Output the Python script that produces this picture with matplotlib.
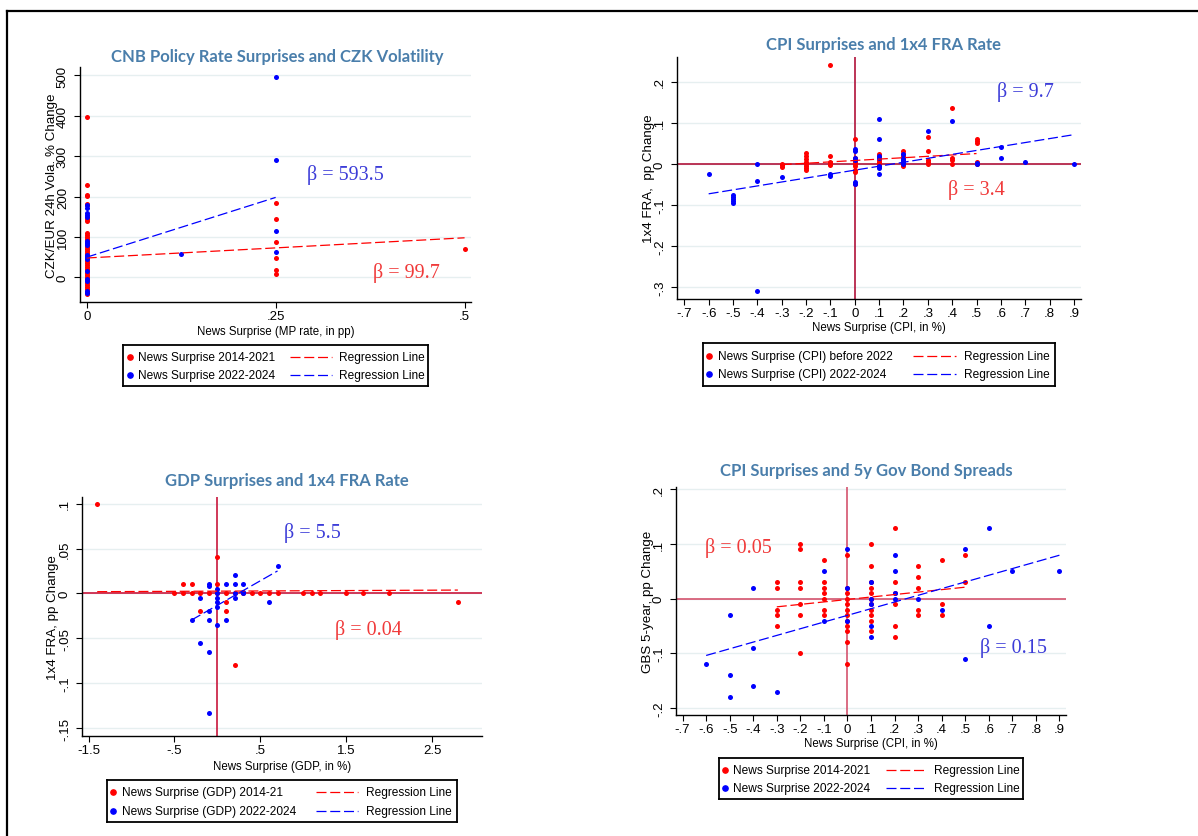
import matplotlib
matplotlib.use("Agg")
import matplotlib.pyplot as plt
from matplotlib.lines import Line2D
import numpy as np

W, H = 1198, 837
SANS = ['Liberation Sans', 'DejaVu Sans']
SERIF = ['Liberation Serif', 'DejaVu Serif']
plt.rcParams['font.family'] = SANS

TITLE_C = '#4a7eab'
GRID_C = '#e6eff0'
RED = '#ff0000'
BLUE = '#0000ff'
BETA_RED = '#f03a3a'
BETA_BLUE = '#3c3cd8'

# ---- panel 1: CNB policy rate surprises vs CZK volatility
p1_red_x = [0]*40 + [0.25]*6 + [0.5]
p1_red_y = [397, 228, 205, 202, 182, 178, 150, 145, 140, 110, 105, 100, 95, 90, 85, 80,
            75, 70, 65, 60, 55, 50, 45, 40, 35, 30, 25, 20, 15, 10, 5, 0, -5, -10, -15,
            -20, -25, -30, -35, -40,
            185, 145, 87, 47, 18, 8,
            70]
p1_blue_x = [0]*16 + [0.125] + [0.25]*4
p1_blue_y = [178, 172, 160, 155, 150, 90, 85, 80, 55, 50, 45, 15, -5, -10, -33, -39,
             58,
             495, 290, 115, 62]
p1_red_fit = ([0, 0.5], [48, 98])
p1_blue_fit = ([0, 0.25], [50, 198])

# ---- panel 2: CPI surprises vs 1x4 FRA
p2_red_x = ([-0.3]*3 + [-0.2]*8 + [-0.1]*5 + [0]*9 + [0.1]*6 + [0.2]*6 + [0.3]*5
            + [0.4]*4 + [0.5]*5)
p2_red_y = [0, -0.004, -0.008,
            0.026, 0.02, 0.012, 0.005, 0, -0.005, -0.01, -0.015,
            0.24, 0.02, 0.005, 0, -0.003,
            0.06, 0.015, 0.01, 0.005, 0, -0.005, -0.015, -0.02, -0.048,
            0.025, 0.02, 0.01, 0.005, 0, -0.005,
            0.03, 0.025, 0.02, 0.01, 0, -0.005,
            0.065, 0.03, 0.01, 0.005, 0,
            0.136, 0.015, 0.01, 0,
            0.06, 0.055, 0.05, 0.005, 0]
p2_blue_x = ([-0.6] + [-0.5]*5 + [-0.4]*3 + [-0.3] + [-0.1]*2 + [0]*6 + [0.1]*7
             + [0.2]*5 + [0.3] + [0.4] + [0.5]*2 + [0.6]*2 + [0.7] + [0.9])
p2_blue_y = [-0.025,
             -0.075, -0.08, -0.085, -0.09, -0.095,
             0, -0.041, -0.31,
             -0.031,
             -0.025, -0.03,
             0.035, 0.03, 0.015, 0.01, -0.045, -0.05,
             0.11, 0.06, 0.02, 0.015, -0.005, -0.01, -0.025,
             0.025, 0.015, 0.01, 0.005, 0,
             0.08,
             0.105,
             0, 0.002,
             0.04, 0.015,
             0.005,
             0]
p2_red_fit = ([-0.3, 0.5], [-0.002, 0.025])
p2_blue_fit = ([-0.6, 0.9], [-0.073, 0.071])

# ---- panel 3: GDP surprises vs 1x4 FRA
p3_red_x = [-1.4, -0.5, -0.4, -0.4, -0.3, -0.3, -0.2, -0.2, -0.1, 0, 0, 0, 0.1, 0.1, 0.1,
            0.2, 0.2, 0.3, 0.4, 0.5, 0.6, 0.7, 1.0, 1.1, 1.2, 1.5, 1.7, 2.0, 2.8]
p3_red_y = [0.1, 0, 0, 0.01, 0, 0.01, 0, -0.02, 0, 0.04, 0.01, 0, 0, -0.01, -0.02,
            0, -0.08, 0, 0, 0, 0, 0, 0, 0, 0, 0, 0, 0, -0.01]
p3_blue_x = ([-0.3] + [-0.2]*2 + [-0.1]*6 + [0]*6 + [0.1]*2 + [0.2]*4 + [0.3]*3
             + [0.6] + [0.7])
p3_blue_y = [-0.03,
             -0.005, -0.055,
             0.01, 0.008, -0.02, -0.03, -0.065, -0.133,
             0.005, 0, -0.005, -0.01, -0.015, -0.035,
             0.01, -0.03,
             0.02, 0.01, 0, -0.005,
             0.01, 0.002, 0,
             -0.01,
             0.03]
p3_red_fit = ([-1.4, 2.8], [0.0019, 0.0037])
p3_blue_fit = ([-0.3, 0.7], [-0.0296, 0.025])

# ---- panel 4: CPI surprises vs 5y government bond spreads
p4_red_x = ([-0.3]*5 + [-0.2]*7 + [-0.1]*7 + [0]*12 + [0.1]*11 + [0.2]*6 + [0.3]*5
            + [0.4]*3 + [0.5]*2)
p4_red_y = [0.03, 0.02, -0.02, -0.03, -0.05,
            0.1, 0.09, 0.03, 0.02, -0.01, -0.03, -0.1,
            0.07, 0.03, 0.02, 0.01, 0, -0.02, -0.03,
            0.08, 0.02, 0.01, 0, -0.01, -0.02, -0.03, -0.04, -0.05, -0.06, -0.08, -0.12,
            0.1, 0.06, 0.03, 0.02, 0.01, 0, -0.01, -0.02, -0.03, -0.04, -0.06,
            0.13, 0.03, 0.01, -0.01, -0.05, -0.07,
            0.06, 0.04, 0.02, -0.02, -0.03,
            0.07, -0.01, -0.03,
            0.08, 0.03]
p4_blue_x = ([-0.6] + [-0.5]*3 + [-0.4]*3 + [-0.3] + [-0.1]*2 + [0]*3 + [0.1]*5
             + [0.2]*4 + [0.3] + [0.4] + [0.5]*2 + [0.6]*2 + [0.7] + [0.9])
p4_blue_y = [-0.12,
             -0.03, -0.14, -0.18,
             0.02, -0.09, -0.16,
             -0.17,
             0.05, -0.04,
             0.09, 0.02, -0.04,
             0.03, 0, -0.01, -0.05, -0.07,
             0.08, 0.05, 0.01, 0,
             0,
             -0.02,
             0.09, -0.11,
             0.13, -0.05,
             0.05,
             0.05]
p4_red_fit = ([-0.3, 0.5], [-0.015, 0.021])
p4_blue_fit = ([-0.6, 0.9], [-0.104, 0.0795])

cpi_ticks = [round(v, 1) + 0.0 for v in np.arange(-0.7, 0.95, 0.1)]

title_cx = {
    'CNB Policy Rate Surprises and CZK Volatility': 277,
    'CPI Surprises and 1x4 FRA Rate': 883,
    'GDP Surprises and 1x4 FRA Rate': 287,
    'CPI Surprises and 5y Gov Bond Spreads': 866,
}


def stata_fmt(v):
    if abs(v) < 1e-9:
        return '0'
    s = f"{v:g}"
    return s.replace("0.", ".")


def px_axes(fig, left, top, right, bottom):
    return fig.add_axes([left / W, 1 - bottom / H, (right - left) / W, (bottom - top) / H])


def fx(x):
    return x / W


def fy(y):
    return 1 - y / H


def panel(fig, box, title, title_y, rx, ry, bx, by, rfit, bfit, xlim, ylim, xticks, yticks,
          xlabel, ylabel, ref_color=None, ylabel_x=None, xlabel_y=None):
    ax = px_axes(fig, *box)
    ax.set_xlim(xlim)
    ax.set_ylim(ylim)
    for s in ['top', 'right']:
        ax.spines[s].set_visible(False)
    for s in ['left', 'bottom']:
        ax.spines[s].set_linewidth(1.0)
    ax.set_yticks(yticks)
    ax.set_yticklabels([stata_fmt(v) for v in yticks], rotation=90, va='center')
    ax.set_xticks(xticks)
    ax.set_xticklabels([stata_fmt(v) for v in xticks])
    ax.tick_params(length=4, width=0.8)
    ax.tick_params(axis='x', labelsize=9.5, pad=2)
    ax.tick_params(axis='y', labelsize=9.5, pad=4)
    ax.grid(axis='y', color=GRID_C, lw=1.0)
    ax.set_axisbelow(True)
    if ref_color:
        ax.axhline(0, color=ref_color, lw=1.2, zorder=1)
        ax.axvline(0, color=ref_color, lw=1.2, zorder=1)
    ax.scatter(rx, ry, s=13, color=RED, lw=0, zorder=3)
    ax.scatter(bx, by, s=13, color=BLUE, lw=0, zorder=3)
    ax.plot(rfit[0], rfit[1], color=RED, lw=0.9, ls=(0, (8, 3)), zorder=4)
    ax.plot(bfit[0], bfit[1], color=BLUE, lw=0.9, ls=(0, (8, 3)), zorder=4)
    ax.set_xlabel(xlabel, fontsize=8.3)
    ax.set_ylabel(ylabel, fontsize=9.6)
    ax.yaxis.set_label_coords((ylabel_x - box[0]) / (box[2] - box[0]), 0.5)
    ax.xaxis.set_label_coords(0.5, (box[3] - xlabel_y) / (box[3] - box[1]))
    ax.xaxis.label.set_va('center')
    ax.yaxis.label.set_va('center')
    fig.text(fx(title_cx[title]), fy(title_y), title, ha='center', va='center',
             fontsize=12, fontweight='bold', color=TITLE_C, family=['Lato', 'DejaVu Sans'])
    return ax


def beta(fig, x, y, txt, color):
    fig.text(fx(x), fy(y), txt, ha='left', va='center', fontsize=14.5, color=color,
             family=SERIF)


def legend(fig, box, rows, dot_x, text_x, line_x0, line_x1, text2_x, labels):
    l, t, r, b = box
    lax = px_axes(fig, l, t, r, b)
    lax.set_xticks([])
    lax.set_yticks([])
    for s in lax.spines.values():
        s.set_linewidth(1.3)
    lax.patch.set_alpha(0)
    for y, lab, c in zip(rows, labels, [RED, BLUE]):
        fig.add_artist(Line2D([fx(dot_x)], [fy(y)], marker='o', ms=3.8, color=c, lw=0))
        fig.text(fx(text_x), fy(y), lab, ha='left', va='center', fontsize=8.6)
        fig.add_artist(Line2D([fx(line_x0), fx(line_x1)], [fy(y), fy(y)], color=c, lw=0.9,
                              ls=(0, (8, 3))))
        fig.text(fx(text2_x), fy(y), 'Regression Line', ha='left', va='center', fontsize=8.6)


fig = plt.figure(figsize=(W / 100, H / 100), dpi=100)

# outer frame (top and left edges)
fig.add_artist(Line2D([fx(7), 1], [fy(12), fy(12)], color='black', lw=1.6))
fig.add_artist(Line2D([fx(7), fx(7)], [fy(12), 0], color='black', lw=1.6))

panel(fig, (80, 68, 471, 303), 'CNB Policy Rate Surprises and CZK Volatility', 57,
      p1_red_x, p1_red_y, p1_blue_x, p1_blue_y, p1_red_fit, p1_blue_fit,
      (-0.0089, 0.5085), (-61, 521), [0, 0.25, 0.5], [0, 100, 200, 300, 400, 500],
      'News Surprise (MP rate, in pp)', 'CZK/EUR 24h Vola. % Change',
      ylabel_x=52, xlabel_y=332)
beta(fig, 307, 175, 'β = 593.5', BETA_BLUE)
beta(fig, 373, 273, 'β = 99.7', BETA_RED)
legend(fig, (123, 346, 428, 387), [358, 376], 130, 138, 290, 332, 339,
       ['News Surprise 2014-2021', 'News Surprise 2022-2024'])

panel(fig, (677, 58, 1081, 300), 'CPI Surprises and 1x4 FRA Rate', 45,
      p2_red_x, p2_red_y, p2_blue_x, p2_blue_y, p2_red_fit, p2_blue_fit,
      (-0.73, 0.929), (-0.329, 0.26), cpi_ticks, [-0.3, -0.2, -0.1, 0, 0.1, 0.2],
      'News Surprise (CPI, in %)', '1x4 FRA,  pp Change', ref_color='#b0123a',
      ylabel_x=649, xlabel_y=328)
beta(fig, 997, 92, 'β = 9.7', BETA_BLUE)
beta(fig, 948, 190, 'β = 3.4', BETA_RED)
legend(fig, (703, 344, 1055, 387), [357, 375], 709, 718, 913, 956, 964,
       ['News Surprise (CPI) before 2022', 'News Surprise (CPI) 2022-2024'])

panel(fig, (82, 498, 482, 737), 'GDP Surprises and 1x4 FRA Rate', 481,
      p3_red_x, p3_red_y, p3_blue_x, p3_blue_y, p3_red_fit, p3_blue_fit,
      (-1.577, 3.081), (-0.1589, 0.1074), [-1.5, -0.5, 0.5, 1.5, 2.5],
      [-0.15, -0.1, -0.05, 0, 0.05, 0.1],
      'News Surprise (GDP, in %)', '1x4 FRA, pp Change', ref_color='#c8173c',
      ylabel_x=53, xlabel_y=767)
beta(fig, 284, 533, 'β = 5.5', BETA_BLUE)
beta(fig, 335, 630, 'β = 0.04', BETA_RED)
legend(fig, (107, 781, 457, 823), [793, 812], 113, 122, 316, 358, 366,
       ['News Surprise (GDP) 2014-21', 'News Surprise (GDP) 2022-2024'])

panel(fig, (676, 488, 1066, 716), 'CPI Surprises and 5y Gov Bond Spreads', 471,
      p4_red_x, p4_red_y, p4_blue_x, p4_blue_y, p4_red_fit, p4_blue_fit,
      (-0.728, 0.928), (-0.213, 0.2044), cpi_ticks, [-0.2, -0.1, 0, 0.1, 0.2],
      'News Surprise (CPI, in %)', 'GBS 5-year, pp Change', ref_color='#d4546e',
      ylabel_x=648, xlabel_y=744)
beta(fig, 705, 548, 'β = 0.05', BETA_RED)
beta(fig, 980, 648, 'β = 0.15', BETA_BLUE)
legend(fig, (719, 759, 1023, 800), [771, 789], 725, 733, 886, 927, 934,
       ['News Surprise 2014-2021', 'News Surprise 2022-2024'])

fig.savefig('out.png', dpi=100)
